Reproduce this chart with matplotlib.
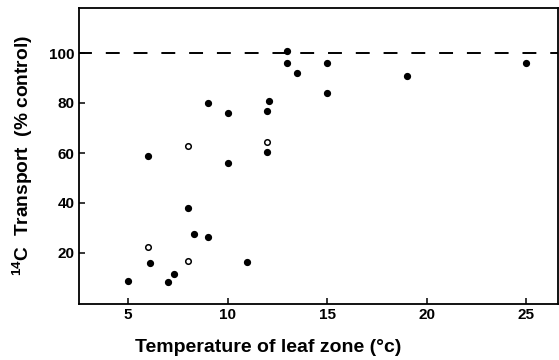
import matplotlib
matplotlib.use("Agg")
import matplotlib.pyplot as plt

plt.rcParams['font.family'] = ['Liberation Sans', 'DejaVu Sans']
plt.rcParams['font.weight'] = 'bold'
plt.rcParams['mathtext.fontset'] = 'custom'
plt.rcParams['mathtext.rm'] = 'Liberation Sans:bold'
plt.rcParams['mathtext.it'] = 'Liberation Sans:bold'
plt.rcParams['mathtext.bf'] = 'Liberation Sans:bold'

# filled circles
filled_x = [5, 6.1, 6, 7, 7.3, 8, 8.3, 9, 9, 10, 10, 11, 12, 12, 12.1, 13, 13, 13.5, 15, 15, 19, 25]
filled_y = [9, 16, 59, 8.5, 11.5, 38, 27.5, 26.5, 80, 76, 56, 16.5, 60.3, 77, 81, 101, 96, 92, 96, 84, 91, 96]
# open circles
open_x = [6, 8, 8, 12]
open_y = [22.5, 17, 63, 64.5]

control_level = 100
x_ticks = [5, 10, 15, 20, 25]
y_ticks = [20, 40, 60, 80, 100]

fig = plt.figure(figsize=(5.59, 3.6), dpi=100)
ax = fig.add_axes([79/559, 56/360, (558-79)/559, (304-8)/360])

ax.axhline(control_level, color='black', lw=1.4, ls=(0.5, (10/1.4, 10/1.4)), zorder=1)
ax.plot(filled_x, filled_y, 'o', color='black', ms=4.2, zorder=3)
ax.plot(open_x, open_y, 'o', mfc='white', mec='black', mew=1.1, ms=4.0, zorder=3)

ax.set_xlim(2.54, 26.6)
ax.set_ylim(-0.4, 118)
ax.set_xticks(x_ticks)
ax.set_yticks(y_ticks)
ax.tick_params(direction='in', length=4, width=1.1, labelsize=11, pad=3)
for s in ax.spines.values():
    s.set_linewidth(1.3)

ax.set_xlabel('Temperature of leaf zone (°c)', fontsize=14, fontweight='bold')
ax.xaxis.set_label_coords((268-79)/(558-79), -(348-304)/(304-8))
ax.xaxis.label.set_va('center')
ax.set_ylabel('$^{14}$C  Transport  (% control)', fontsize=13.8, fontweight='bold')
ax.yaxis.set_label_coords(-(79-23)/(558-79), 0.5)
ax.yaxis.label.set_va('center')

fig.savefig('out.png', dpi=100)
